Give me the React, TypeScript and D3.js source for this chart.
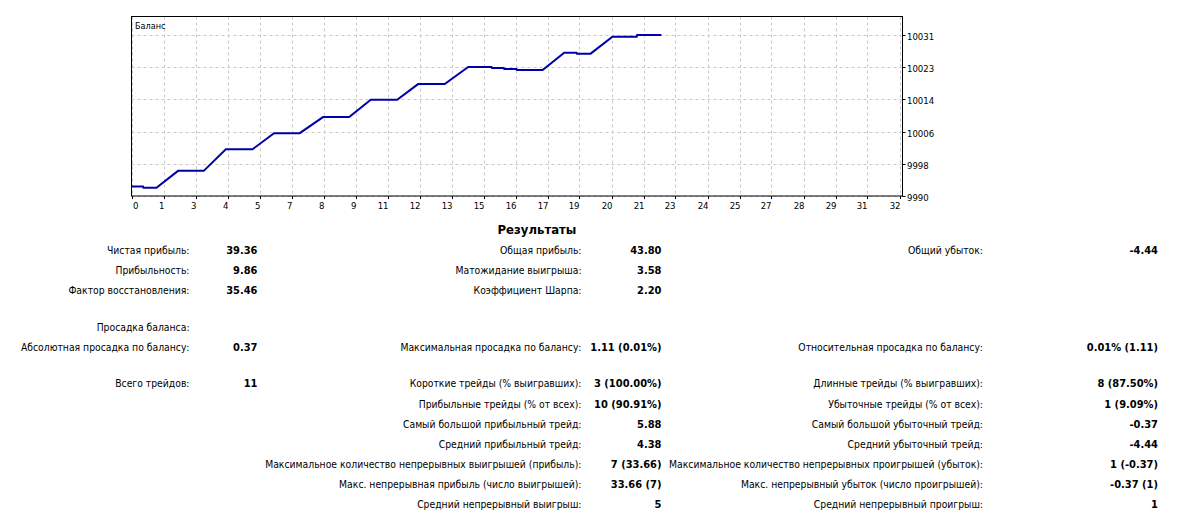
import React from "react";
import * as d3 from "d3";

// ---- chart data ----
const balanceX = [0, 0.48, 0.5, 1.04, 1.94, 3.01, 3.93, 5.04, 5.94, 7.01, 7.98, 9.07, 9.97, 11.07, 11.94, 13.05, 14.03, 15.0, 15.02, 15.51, 15.53, 16.04, 16.06, 17.13, 18.03, 18.54, 18.56, 19.13, 20.04, 21.05, 21.07, 22.08];
const balanceY = [9992.4, 9992.4, 9992.1, 9992.1, 9996.4, 9996.4, 10001.9, 10001.9, 10006.0, 10006.0, 10010.1, 10010.1, 10014.5, 10014.5, 10018.5, 10018.5, 10022.85, 10022.85, 10022.6, 10022.6, 10022.35, 10022.35, 10022.1, 10022.1, 10026.5, 10026.5, 10026.25, 10026.25, 10030.55, 10030.55, 10031.0, 10031.0];
const xTickLabels = ["0", "1", "3", "4", "5", "7", "8", "9", "11", "12", "13", "15", "16", "17", "19", "20", "21", "23", "24", "25", "27", "28", "29", "31", "32"];
const yTickLabels = ["9990", "9998", "10006", "10014", "10023", "10031"];
const chartTitle = "Баланс";

// ---- results table ----
const resultsTitle = "Результаты";
const col1Labels = ["Чистая прибыль:", "Прибыльность:", "Фактор восстановления:", "", "Просадка баланса:", "Абсолютная просадка по балансу:"];
const col1Values = ["39.36", "9.86", "35.46", "", "", "0.37"];
const col2Labels = ["Общая прибыль:", "Матожидание выигрыша:", "Коэффициент Шарпа:", "", "", "Максимальная просадка по балансу:"];
const col2Values = ["43.80", "3.58", "2.20", "", "", "1.11 (0.01%)"];
const col3Labels = ["Общий убыток:", "", "", "", "", "Относительная просадка по балансу:"];
const col3Values = ["-4.44", "", "", "", "", "0.01% (1.11)"];

const tradeLabels1 = ["Всего трейдов:", "", "", "", "", "", ""];
const tradeValues1 = ["11", "", "", "", "", "", ""];
const tradeLabels2 = [
  "Короткие трейды (% выигравших):",
  "Прибыльные трейды (% от всех):",
  "Самый большой прибыльный трейд:",
  "Средний прибыльный трейд:",
  "Максимальное количество непрерывных выигрышей (прибыль):",
  "Макс. непрерывная прибыль (число выигрышей):",
  "Средний непрерывный выигрыш:",
];
const tradeValues2 = ["3 (100.00%)", "10 (90.91%)", "5.88", "4.38", "7 (33.66)", "33.66 (7)", "5"];
const tradeLabels3 = [
  "Длинные трейды (% выигравших):",
  "Убыточные трейды (% от всех):",
  "Самый большой убыточный трейд:",
  "Средний убыточный трейд:",
  "Максимальное количество непрерывных проигрышей (убыток):",
  "Макс. непрерывный убыток (число проигрышей):",
  "Средний непрерывный проигрыш:",
];
const tradeValues3 = ["8 (87.50%)", "1 (9.09%)", "-0.37", "-4.44", "1 (-0.37)", "-0.37 (1)", "1"];

const FONT = "'DejaVu Sans Condensed', 'DejaVu Sans', sans-serif";

export default function App() {
  const W = 1202;
  const H = 527;
  const left = 131.5;
  const right = 902.5;
  const top = 16.5;
  const bottom = 196;

  const x = d3.scaleLinear().domain([0, 32]).range([left, left + 768]);
  const y = d3.scaleLinear().domain([9990, 10031]).range([bottom, 35]);
  const yStep = (10031 - 9990) / (yTickLabels.length - 1);
  const xStep = 32 / (xTickLabels.length - 1);

  const pts: [number, number][] = balanceX.map((v, i) => [v, balanceY[i]]);
  const line = d3
    .line<[number, number]>()
    .x((d) => x(d[0]))
    .y((d) => y(d[1]));

  const labelStyle = { fontFamily: FONT, fontStretch: "condensed" as const, fontSize: 10.3, fill: "#000" };
  const valueStyle = { ...labelStyle, fontSize: 11, fontWeight: 700 };
  const axisStyle = { fontFamily: FONT, fontStretch: "condensed" as const, fontSize: 9.5, fill: "#000" };

  const rowsTop = [250, 270, 290, 310, 327, 347];
  const rowsBottom = [383, 404, 424, 444, 464, 484, 504];

  const renderCol = (labels: string[], values: string[], rows: number[], lx: number, vx: number, key: string) =>
    labels.map((l, i) => (
      <g key={key + i}>
        {l && (
          <text x={lx} y={rows[i]} textAnchor="end" dominantBaseline="central" style={labelStyle}>
            {l}
          </text>
        )}
        {values[i] && (
          <text x={vx} y={rows[i]} textAnchor="end" dominantBaseline="central" style={valueStyle}>
            {values[i]}
          </text>
        )}
      </g>
    ));

  return (
    <svg width={W} height={H} style={{ position: "absolute", left: 0, top: 0, background: "#fff" }}>
      <rect x={0} y={0} width={W} height={H} fill="#fff" />
      {/* grid */}
      {xTickLabels.map((_, i) => (
        <line
          key={"gx" + i}
          x1={Math.round(x(i * xStep)) + 0.5}
          x2={Math.round(x(i * xStep)) + 0.5}
          y1={top}
          y2={bottom}
          stroke="#c8c8c8"
          strokeDasharray="3,3"
        />
      ))}
      {yTickLabels.map((_, i) => (
        <line
          key={"gy" + i}
          x1={left}
          x2={right}
          y1={Math.round(y(9990 + i * yStep)) + 0.5}
          y2={Math.round(y(9990 + i * yStep)) + 0.5}
          stroke="#c8c8c8"
          strokeDasharray="3,3"
        />
      ))}
      {/* frame */}
      <rect x={left} y={top} width={right - left} height={bottom - top} fill="none" stroke="#000" strokeWidth={1} />
      {/* ticks */}
      {xTickLabels.map((t, i) => {
        const px = Math.round(x(i * xStep)) + 0.5;
        return (
          <g key={"xt" + i}>
            <line x1={px} x2={px} y1={bottom} y2={bottom + 3} stroke="#000" />
            <text
              x={i === 0 ? px + 0.5 : px}
              y={205}
              textAnchor={i === 0 ? "start" : "end"}
              dominantBaseline="central"
              style={axisStyle}
            >
              {t}
            </text>
          </g>
        );
      })}
      {yTickLabels.map((t, i) => {
        const py = Math.round(y(9990 + i * yStep)) + 0.5;
        return (
          <g key={"yt" + i}>
            <line x1={right} x2={right + 3} y1={py} y2={py} stroke="#000" />
            <text x={907} y={py + 1} dominantBaseline="central" style={axisStyle}>
              {t}
            </text>
          </g>
        );
      })}
      <text x={135} y={25.5} dominantBaseline="central" style={{ ...axisStyle, fontSize: 9 }}>
        {chartTitle}
      </text>
      {/* balance line */}
      <path d={line(pts) || ""} fill="none" stroke="#0000a8" strokeWidth={2} strokeLinejoin="miter" />

      {/* results */}
      <text x={537} y={229} textAnchor="middle" dominantBaseline="central" style={{ ...valueStyle, fontSize: 13 }}>
        {resultsTitle}
      </text>
      {renderCol(col1Labels, col1Values, rowsTop, 189.5, 257.5, "c1")}
      {renderCol(col2Labels, col2Values, rowsTop, 581.5, 661.5, "c2")}
      {renderCol(col3Labels, col3Values, rowsTop, 983, 1158, "c3")}
      {renderCol(tradeLabels1, tradeValues1, rowsBottom, 189.5, 257.5, "t1")}
      {renderCol(tradeLabels2, tradeValues2, rowsBottom, 581.5, 661.5, "t2")}
      {renderCol(tradeLabels3, tradeValues3, rowsBottom, 983, 1158, "t3")}
    </svg>
  );
}
